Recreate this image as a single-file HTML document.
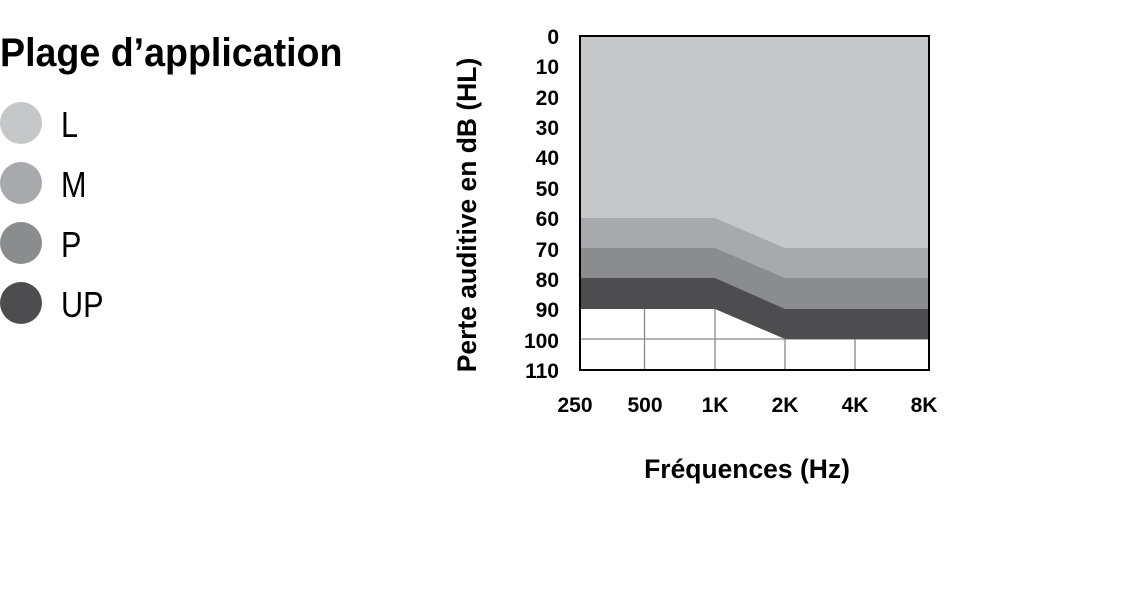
<!DOCTYPE html>
<html><head><meta charset="utf-8"><style>
body{margin:0;background:#fff;width:1140px;height:600px;overflow:hidden;font-family:"Liberation Sans",sans-serif}
</style></head><body>
<svg width="1140" height="600" xmlns="http://www.w3.org/2000/svg" font-family="Liberation Sans, sans-serif">
<g transform="translate(0,66) scale(0.94,1)"><text x="0" y="0" font-size="40" font-weight="bold">Plage d’application</text></g>
<circle cx="21" cy="123" r="21" fill="#c6c7c9"/>
<circle cx="21" cy="183" r="21" fill="#a8a9ad"/>
<circle cx="21" cy="243" r="21" fill="#8b8c8e"/>
<circle cx="21" cy="303" r="21" fill="#4d4d4f"/>
<g font-size="36"><g transform="translate(61,137) scale(0.85,1)"><text>L</text></g>
<g transform="translate(61,197) scale(0.85,1)"><text>M</text></g>
<g transform="translate(61,257) scale(0.85,1)"><text>P</text></g>
<g transform="translate(61,317) scale(0.85,1)"><text>UP</text></g></g>
<rect x="580" y="36" width="349" height="334" fill="#fff"/>
<g stroke="#888" stroke-width="1.3">
<line x1="580" y1="339" x2="929" y2="339"/>
<line x1="644.5" y1="309" x2="644.5" y2="370"/>
<line x1="715" y1="309" x2="715" y2="370"/>
<line x1="785" y1="309" x2="785" y2="370"/>
<line x1="855" y1="309" x2="855" y2="370"/>
</g>
<polygon points="580,36 929,36 929,339 785,339 715,309 580,309" fill="#4d4d4f"/>
<polygon points="580,36 929,36 929,309 785,309 715,278 580,278" fill="#8b8c8e"/>
<polygon points="580,36 929,36 929,278 785,278 715,248 580,248" fill="#a8a9ad"/>
<polygon points="580,36 929,36 929,248 785,248 715,218 580,218" fill="#c6c7c9"/>
<rect x="580" y="36" width="349" height="334" fill="none" stroke="#000" stroke-width="2"/>
<g font-size="21" font-weight="bold" text-anchor="end">
<text x="559" y="44">0</text><text x="559" y="74">10</text><text x="559" y="105">20</text><text x="559" y="135">30</text><text x="559" y="165">40</text><text x="559" y="196">50</text><text x="559" y="226">60</text><text x="559" y="257">70</text><text x="559" y="287">80</text><text x="559" y="317">90</text><text x="559" y="348">100</text><text x="559" y="378">110</text>
</g>
<g font-size="21" font-weight="bold" text-anchor="middle">
<text x="575" y="412">250</text><text x="645" y="412">500</text><text x="715" y="412">1K</text><text x="785" y="412">2K</text><text x="855" y="412">4K</text><text x="924" y="412">8K</text>
</g>
<g transform="translate(747,478) scale(0.98,1)"><text text-anchor="middle" font-size="27" font-weight="bold">Fréquences (Hz)</text></g>
<g transform="translate(476,215) rotate(-90) scale(0.98,1)"><text text-anchor="middle" font-size="27" font-weight="bold">Perte auditive en dB (HL)</text></g>
</svg>
</body></html>
